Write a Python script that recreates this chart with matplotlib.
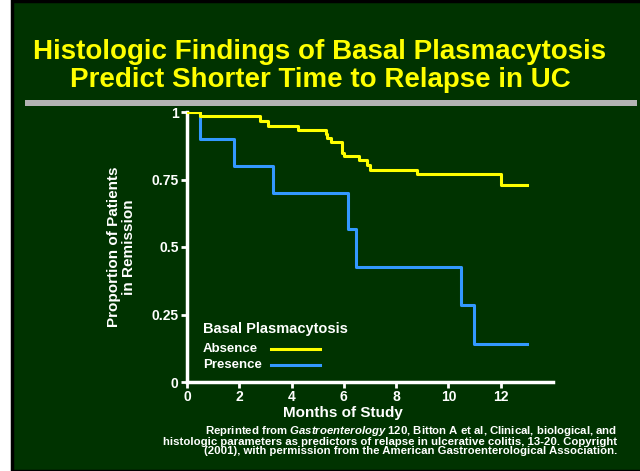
import matplotlib.pyplot as plt
from matplotlib.patches import Rectangle

# Kaplan-Meier style step data
absence_t = [0, 0.5, 2.78, 3.08, 4.23, 5.3, 5.37, 5.49, 5.94, 6.0, 6.59, 6.9, 7.0, 8.8, 12.0, 13.0]
absence_s = [1.0, 0.985, 0.966, 0.948, 0.933, 0.92, 0.903, 0.888, 0.85, 0.836, 0.821, 0.802, 0.787, 0.769, 0.728, 0.728]
presence_t = [0, 0.5, 1.8, 3.28, 6.17, 6.48, 10.48, 10.97, 13.0]
presence_s = [1.0, 0.9, 0.8, 0.7, 0.567, 0.425, 0.284, 0.142, 0.142]
xticks = [0, 2, 4, 6, 8, 10, 12]
yticks = [0, 0.25, 0.5, 0.75, 1]
ytick_labels = ['0', '0.25', '0.5', '0.75', '1']
series_names = ['Absence', 'Presence']
series_colors = ['#ffff00', '#3399ff']

bg = '#003300'
plt.rcParams['font.family'] = ['Liberation Sans', 'DejaVu Sans']
plt.rcParams['font.weight'] = 'bold'
plt.rcParams['mathtext.fontset'] = 'custom'
plt.rcParams['mathtext.it'] = 'Liberation Sans:italic:bold'

fig = plt.figure(figsize=(6.4, 4.71), dpi=100)
fig.patch.set_facecolor('white')
# slide panel
fig.patches.append(Rectangle((12/640, 0), 1, 1 - 1/471, transform=fig.transFigure,
                             facecolor=bg, edgecolor='black', linewidth=2.5, zorder=-2))
# gray separator bar
fig.patches.append(Rectangle((25/640, 1 - 106/471), 612/640, 6/471, transform=fig.transFigure,
                             facecolor='#b3b3b3', edgecolor='none', zorder=-1))

fig.text(0.5, 1 - 59/471, 'Histologic Findings of Basal Plasmacytosis', color='#ffff00',
         fontsize=20, fontweight='bold', ha='center', va='baseline')
fig.text(0.5, 1 - 87/471, 'Predict Shorter Time to Relapse in UC', color='#ffff00',
         fontsize=20, fontweight='bold', ha='center', va='baseline')

ax = fig.add_axes([187/640, 1 - 382/471, (553 - 187)/640, (382 - 112)/471])
ax.set_facecolor(bg)
ax.step(absence_t, absence_s, where='post', color=series_colors[0], lw=2.2, zorder=3)
ax.step(presence_t, presence_s, where='post', color=series_colors[1], lw=2.2, zorder=2)
ax.set_xlim(0, 14)
ax.set_ylim(0, 1)
ax.set_xticks(xticks)
ax.set_yticks(yticks)
ax.set_yticklabels(ytick_labels)
for s in ['top', 'right']:
    ax.spines[s].set_visible(False)
for s in ['left', 'bottom']:
    ax.spines[s].set_color('white')
    ax.spines[s].set_linewidth(2.5)
ax.tick_params(colors='white', width=2, length=4, labelsize=10, pad=2)
for lab in ax.get_xticklabels() + ax.get_yticklabels():
    lab.set_fontweight('bold')
ax.set_xlabel('Months of Study', color='white', fontsize=11, fontweight='bold')
ax.xaxis.set_label_coords(0.426, -0.09)
ax.set_ylabel('Proportion of Patients\nin Remission', color='white', fontsize=11,
              fontweight='bold', linespacing=1.1)
ax.yaxis.set_label_coords(-0.14, 0.5)

# legend laid out like the slide: labels left, line samples in a column
ax.text(0.044, 0.198, 'Basal Plasmacytosis', transform=ax.transAxes, color='white',
        fontsize=10.5, fontweight='bold', va='center', ha='left')
for i, (name, col) in enumerate(zip(series_names, series_colors)):
    yy = 0.122 - i * 0.06
    ax.text(0.044, yy, name, transform=ax.transAxes, color='white', fontsize=9.5,
            fontweight='bold', va='center', ha='left')
    ax.plot([0.23, 0.363], [yy, yy], transform=ax.transAxes, color=col, lw=2.2)

caption = ('Reprinted from $\\it{Gastroenterology}$ 120, Bitton A et al, Clinical, biological, and\n'
           'histologic parameters as predictors of relapse in ulcerative colitis, 13-20. Copyright\n'
           '(2001), with permission from the American Gastroenterological Association.')
fig.text(617/640, 1 - 424/471, caption, color='white', fontsize=8.2, fontweight='bold',
         ha='right', va='top', multialignment='right', linespacing=0.85)

plt.savefig('out.png', dpi=100, facecolor=fig.get_facecolor())
